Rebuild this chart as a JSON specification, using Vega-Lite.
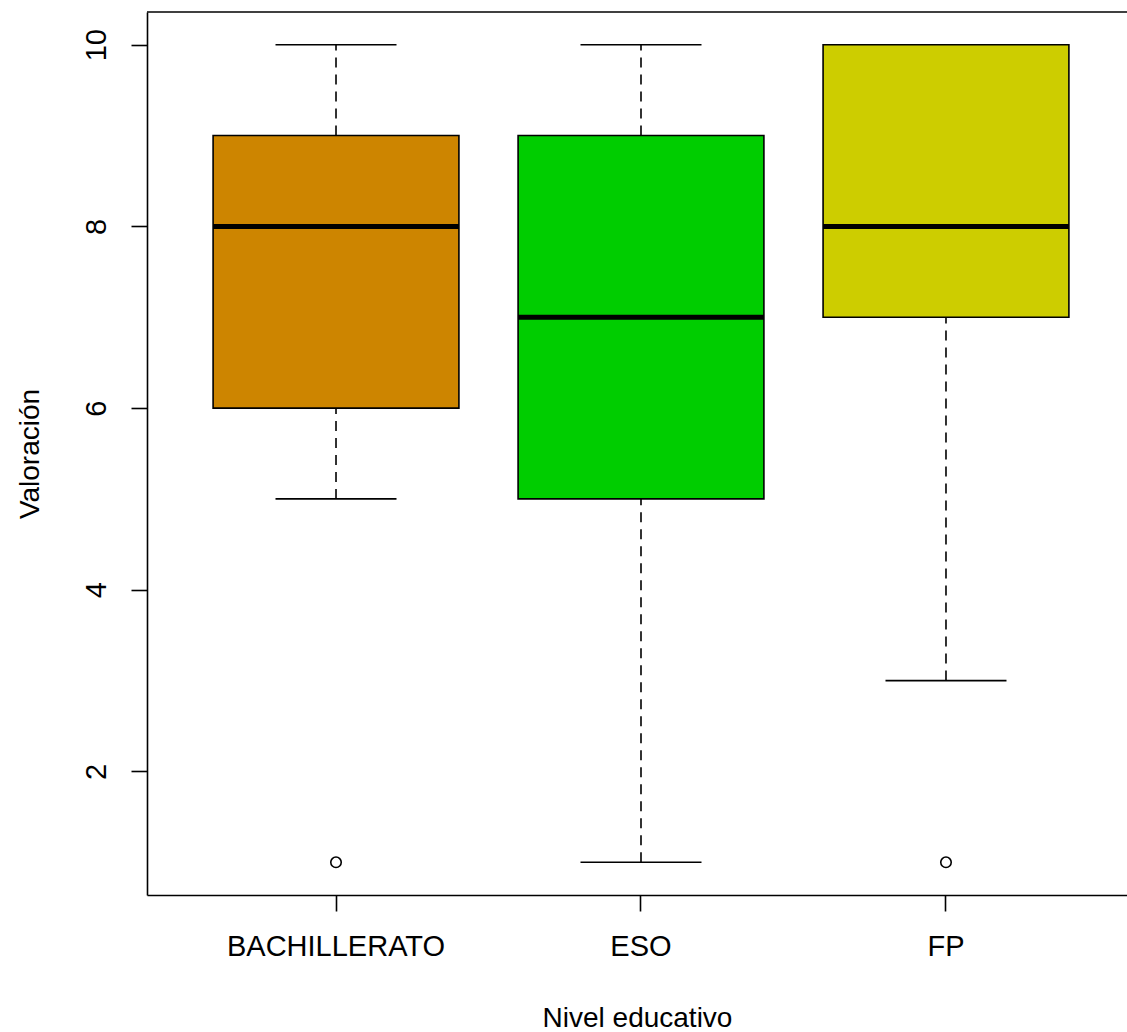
{
  "$schema": "https://vega.github.io/schema/vega-lite/v6.json",
  "autosize": "none",
  "width": 980,
  "height": 883,
  "padding": {"left": 147, "top": 12, "right": 0, "bottom": 137},
  "background": "white",
  "config": {
    "view": {"stroke": null},
    "font": "Liberation Sans",
    "axis": {
      "grid": false,
      "domainColor": "#000000",
      "domainWidth": 1.6,
      "tickColor": "#000000",
      "tickWidth": 1.6,
      "tickSize": 16,
      "labelColor": "#000000",
      "titleColor": "#000000",
      "labelFont": "Liberation Sans",
      "titleFont": "Liberation Sans",
      "labelFontSize": 29,
      "titleFontSize": 28,
      "titleFontWeight": "normal",
      "labelLimit": 0
    }
  },
  "datasets": {
    "stats": [
      {"nivel": "BACHILLERATO", "lo": 5, "q1": 6, "med": 8, "q3": 9, "hi": 10},
      {"nivel": "ESO", "lo": 1, "q1": 5, "med": 7, "q3": 9, "hi": 10},
      {"nivel": "FP", "lo": 3, "q1": 7, "med": 8, "q3": 10, "hi": 10}
    ],
    "outliers": [
      {"nivel": "BACHILLERATO", "valor": 1},
      {"nivel": "FP", "valor": 1}
    ]
  },
  "encoding": {
    "x": {
      "field": "nivel",
      "type": "nominal",
      "sort": ["BACHILLERATO", "ESO", "FP"],
      "scale": {"type": "band", "domain": ["BACHILLERATO", "ESO", "FP"], "paddingInner": 0, "paddingOuter": 0.1066, "align": 0.5615},
      "axis": {"title": "Nivel educativo", "labelAngle": 0, "labelPadding": 21, "titlePadding": 43, "labelLimit": 0}
    }
  },
  "layer": [
    {
      "data": {"name": "stats"},
      "mark": {"type": "rule", "color": "#000000", "opacity": 1, "strokeWidth": 1.6, "strokeDash": [10, 7]},
      "encoding": {
        "y": {"field": "lo", "type": "quantitative", "scale": {"domain": [0.64, 10.36], "nice": false, "zero": false},
          "axis": {"title": "Valoración", "values": [2, 4, 6, 8, 10], "format": "d", "labelAngle": -90, "labelAlign": "center", "labelBaseline": "alphabetic", "labelPadding": 26, "titlePadding": 38}},
        "y2": {"field": "q1"}
      }
    },
    {
      "data": {"name": "stats"},
      "mark": {"type": "rule", "color": "#000000", "opacity": 1, "strokeWidth": 1.6, "strokeDash": [10, 7]},
      "encoding": {
        "y": {"field": "q3", "type": "quantitative"},
        "y2": {"field": "hi"}
      }
    },
    {
      "data": {"name": "stats"},
      "mark": {"type": "tick", "color": "#000000", "opacity": 1, "thickness": 1.6, "size": 121, "orient": "horizontal"},
      "encoding": {"y": {"field": "lo", "type": "quantitative"}}
    },
    {
      "data": {"name": "stats"},
      "mark": {"type": "tick", "color": "#000000", "opacity": 1, "thickness": 1.6, "size": 121, "orient": "horizontal"},
      "encoding": {"y": {"field": "hi", "type": "quantitative"}}
    },
    {
      "data": {"name": "stats"},
      "mark": {"type": "bar", "stroke": "#000000", "opacity": 1, "strokeWidth": 1.6, "width": {"band": 0.806}},
      "encoding": {
        "y": {"field": "q1", "type": "quantitative"},
        "y2": {"field": "q3"},
        "fill": {"field": "nivel", "type": "nominal", "scale": {"domain": ["BACHILLERATO", "ESO", "FP"], "range": ["#CD8500", "#00CD00", "#CDCD00"]}, "legend": null}
      }
    },
    {
      "data": {"name": "stats"},
      "mark": {"type": "tick", "color": "#000000", "opacity": 1, "thickness": 5, "size": 246, "orient": "horizontal"},
      "encoding": {"y": {"field": "med", "type": "quantitative"}}
    },
    {
      "data": {"name": "outliers"},
      "mark": {"type": "point", "shape": "circle", "filled": false, "stroke": "#000000", "opacity": 1, "strokeWidth": 1.6, "size": 110},
      "encoding": {"y": {"field": "valor", "type": "quantitative"}}
    },
    {
      "data": {"values": [{}]},
      "mark": {"type": "rule", "color": "#000000", "strokeWidth": 1.6},
      "encoding": {"y": {"datum": 10.36, "type": "quantitative"}, "x": null}
    }
  ]
}
